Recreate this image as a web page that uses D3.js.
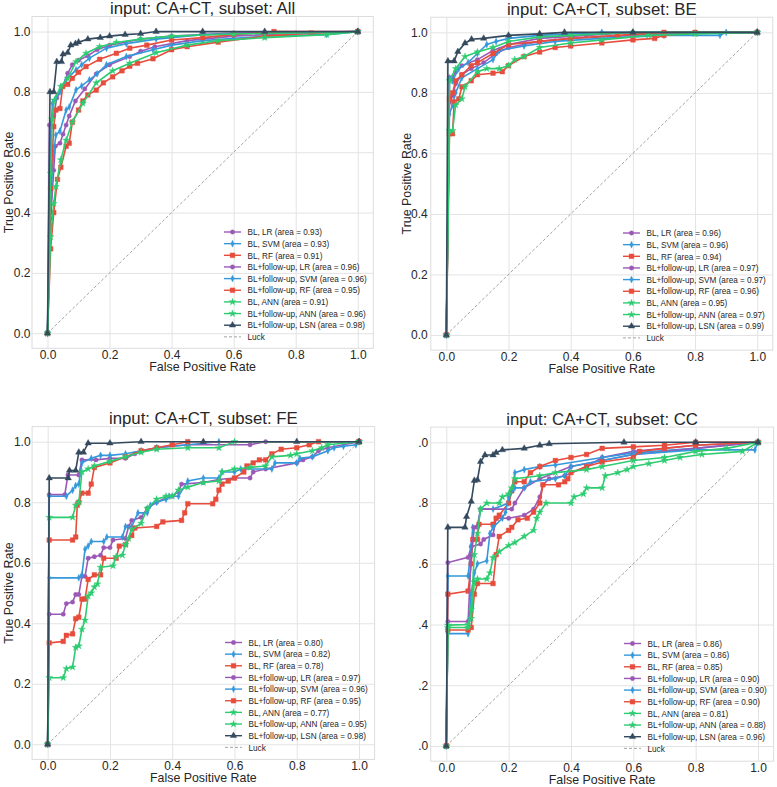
<!DOCTYPE html>
<html><head><meta charset="utf-8">
<script src="https://cdn.jsdelivr.net/npm/d3@7"></script>
<style>
html,body{margin:0;padding:0;background:#fff;}
svg text{font-family:"Liberation Sans",Arial,Helvetica,sans-serif;fill:#262626;}
</style></head>
<body>
<svg id="chart" width="777" height="787"></svg>
<script>
// ---------------- DATA ----------------
const TICKS = [0, 0.2, 0.4, 0.6, 0.8, 1.0];
const SUBSETS = ["All", "BE", "FE", "CC"];
const SERIES_LABELS = ["BL, LR", "BL, SVM", "BL, RF", "BL+follow-up, LR", "BL+follow-up, SVM",
  "BL+follow-up, RF", "BL, ANN", "BL+follow-up, ANN", "BL+follow-up, LSN"];
const SERIES_COLORS = ["#9b59b6", "#3498db", "#e74c3c", "#9b59b6", "#3498db", "#e74c3c", "#2ecc71", "#2ecc71", "#34495e"];
const SERIES_MARKERS = ["circle", "diamond", "square", "circle", "diamond", "square", "star", "star", "triangle"];
const LUCK_LABEL = "Luck";
const AUC_ALL = [0.93, 0.93, 0.91, 0.96, 0.96, 0.95, 0.91, 0.96, 0.98];
const AUC_BE  = [0.96, 0.96, 0.94, 0.97, 0.97, 0.96, 0.95, 0.97, 0.99];
const AUC_FE  = [0.80, 0.82, 0.78, 0.97, 0.96, 0.95, 0.77, 0.95, 0.98];
const AUC_CC  = [0.86, 0.86, 0.85, 0.90, 0.90, 0.90, 0.81, 0.88, 0.96];

// ---- subset All : [fpr, tpr] ----
const ALL_BL_LR = [[0,0],[0.01,0.38],[0.02,0.54],[0.025,0.62],[0.04,0.63],[0.05,0.66],[0.06,0.69],[0.07,0.72],[0.09,0.77],[0.12,0.81],[0.157,0.86],[0.2,0.89],[0.265,0.917],[0.3,0.935],[0.346,0.95],[0.45,0.97],[0.6,0.985],[0.8,0.995],[1,1]];
const ALL_BL_SVM = [[0,0],[0.01,0.45],[0.02,0.6],[0.027,0.657],[0.04,0.67],[0.06,0.74],[0.07,0.75],[0.092,0.807],[0.11,0.82],[0.135,0.84],[0.16,0.86],[0.19,0.89],[0.254,0.917],[0.34,0.94],[0.4,0.955],[0.5,0.97],[0.7,0.985],[0.9,0.99],[1,1]];
const ALL_BL_RF = [[0,0],[0.01,0.28],[0.02,0.40],[0.032,0.51],[0.043,0.55],[0.06,0.62],[0.07,0.63],[0.08,0.70],[0.1,0.74],[0.114,0.77],[0.13,0.79],[0.157,0.806],[0.18,0.83],[0.21,0.85],[0.24,0.87],[0.265,0.885],[0.29,0.895],[0.34,0.91],[0.4,0.94],[0.45,0.95],[0.55,0.965],[0.7,0.985],[0.85,0.995],[1,1]];
const ALL_FU_LR = [[0,0],[0.006,0.69],[0.02,0.72],[0.03,0.78],[0.05,0.82],[0.065,0.862],[0.08,0.89],[0.1,0.905],[0.13,0.92],[0.16,0.94],[0.2,0.955],[0.3,0.975],[0.4,0.985],[0.6,0.995],[1,1]];
const ALL_FU_SVM = [[0,0],[0.01,0.657],[0.016,0.762],[0.027,0.78],[0.04,0.8],[0.06,0.84],[0.092,0.873],[0.11,0.89],[0.135,0.912],[0.19,0.945],[0.254,0.96],[0.35,0.975],[0.5,0.99],[0.7,0.995],[1,1]];
const ALL_FU_RF = [[0,0],[0.01,0.48],[0.02,0.685],[0.027,0.74],[0.04,0.745],[0.049,0.818],[0.065,0.825],[0.08,0.845],[0.1,0.865],[0.124,0.884],[0.168,0.908],[0.222,0.928],[0.265,0.945],[0.32,0.955],[0.4,0.972],[0.5,0.98],[0.6,0.99],[0.73,1],[1,1]];
const ALL_BL_ANN = [[0,0],[0.01,0.32],[0.02,0.43],[0.027,0.486],[0.043,0.575],[0.06,0.64],[0.08,0.70],[0.114,0.762],[0.157,0.83],[0.21,0.87],[0.265,0.895],[0.35,0.93],[0.45,0.955],[0.55,0.97],[0.7,0.98],[0.9,0.99],[1,1]];
const ALL_FU_ANN = [[0,0],[0.01,0.53],[0.015,0.71],[0.022,0.773],[0.043,0.818],[0.065,0.845],[0.092,0.9],[0.124,0.928],[0.168,0.95],[0.222,0.964],[0.3,0.975],[0.4,0.985],[0.6,0.992],[1,1]];
const ALL_FU_LSN = [[0,0],[0.008,0.80],[0.02,0.80],[0.03,0.90],[0.045,0.90],[0.05,0.925],[0.065,0.93],[0.075,0.955],[0.09,0.96],[0.1,0.965],[0.13,0.975],[0.17,0.98],[0.2,0.985],[0.25,0.99],[0.3,0.993],[0.35,1],[0.5,1],[0.7,1],[1,1]];

// ---- subset BE ----
const BE_BL_LR = [[0,0],[0.01,0.77],[0.02,0.79],[0.03,0.83],[0.05,0.86],[0.08,0.88],[0.12,0.9],[0.16,0.93],[0.2,0.95],[0.25,0.96],[0.3,0.97],[0.4,0.98],[0.6,0.99],[0.8,1],[1,1]];
const BE_BL_SVM = [[0,0],[0.01,0.73],[0.02,0.76],[0.03,0.8],[0.05,0.85],[0.1,0.88],[0.15,0.91],[0.17,0.94],[0.25,0.955],[0.35,0.97],[0.5,0.98],[0.7,0.99],[0.88,0.99],[0.9,1],[1,1]];
const BE_BL_RF = [[0,0],[0.01,0.665],[0.02,0.665],[0.025,0.77],[0.04,0.78],[0.05,0.82],[0.08,0.84],[0.1,0.86],[0.15,0.865],[0.18,0.87],[0.2,0.89],[0.25,0.92],[0.3,0.935],[0.35,0.95],[0.4,0.955],[0.5,0.965],[0.6,0.975],[0.67,0.98],[0.7,0.99],[0.8,1],[1,1]];
const BE_FU_LR = [[0,0],[0.01,0.85],[0.02,0.85],[0.03,0.87],[0.05,0.89],[0.1,0.91],[0.15,0.94],[0.2,0.96],[0.3,0.98],[0.45,0.99],[0.6,1],[1,1]];
const BE_FU_SVM = [[0,0],[0.01,0.85],[0.02,0.84],[0.04,0.88],[0.07,0.9],[0.1,0.93],[0.13,0.96],[0.16,0.97],[0.2,0.98],[0.3,0.99],[0.5,1],[1,1]];
const BE_FU_RF = [[0,0],[0.01,0.78],[0.02,0.8],[0.03,0.84],[0.05,0.86],[0.08,0.89],[0.1,0.9],[0.15,0.93],[0.2,0.96],[0.3,0.97],[0.4,0.98],[0.55,0.99],[0.7,1],[1,1]];
const BE_BL_ANN = [[0,0],[0.01,0.675],[0.02,0.675],[0.03,0.76],[0.05,0.78],[0.06,0.82],[0.1,0.87],[0.13,0.88],[0.17,0.88],[0.2,0.89],[0.22,0.91],[0.25,0.92],[0.3,0.95],[0.4,0.965],[0.5,0.975],[0.65,0.99],[0.8,0.995],[1,1]];
const BE_FU_ANN = [[0,0],[0.01,0.84],[0.03,0.88],[0.06,0.92],[0.1,0.935],[0.15,0.95],[0.2,0.97],[0.3,0.985],[0.4,0.99],[0.6,1],[1,1]];
const BE_FU_LSN = [[0,0],[0.005,0.905],[0.025,0.905],[0.037,0.936],[0.06,0.964],[0.081,0.977],[0.12,0.98],[0.2,0.99],[0.3,0.995],[0.38,1],[0.6,1],[1,1]];

// ---- subset FE ----
const FE_BL_LR = [[0,0],[0.005,0.43],[0.05,0.43],[0.06,0.465],[0.08,0.47],[0.09,0.495],[0.1,0.495],[0.11,0.555],[0.12,0.555],[0.13,0.615],[0.15,0.62],[0.17,0.625],[0.18,0.65],[0.2,0.65],[0.21,0.675],[0.25,0.68],[0.26,0.72],[0.27,0.74],[0.3,0.75],[0.32,0.78],[0.35,0.8],[0.38,0.815],[0.4,0.82],[0.42,0.835],[0.43,0.86],[0.5,0.865],[0.55,0.875],[0.6,0.88],[0.65,0.88],[0.66,0.9],[0.7,0.91],[0.8,0.93],[0.82,0.94],[0.85,0.95],[0.87,0.97],[0.9,0.98],[1,1]];
const FE_BL_SVM = [[0,0],[0.005,0.55],[0.1,0.55],[0.11,0.56],[0.12,0.645],[0.13,0.655],[0.14,0.67],[0.18,0.67],[0.19,0.685],[0.24,0.685],[0.25,0.72],[0.27,0.72],[0.29,0.765],[0.32,0.765],[0.33,0.79],[0.35,0.8],[0.38,0.81],[0.39,0.82],[0.42,0.82],[0.45,0.87],[0.5,0.88],[0.55,0.88],[0.56,0.9],[0.6,0.9],[0.62,0.91],[0.72,0.91],[0.73,0.93],[0.8,0.93],[0.81,0.945],[0.85,0.95],[0.9,0.97],[0.92,0.98],[0.95,0.985],[0.99,0.99],[1,1]];
const FE_BL_RF = [[0,0],[0.005,0.335],[0.05,0.34],[0.06,0.36],[0.08,0.365],[0.09,0.415],[0.1,0.42],[0.11,0.48],[0.12,0.48],[0.13,0.545],[0.15,0.56],[0.17,0.56],[0.18,0.615],[0.22,0.615],[0.23,0.655],[0.25,0.66],[0.27,0.69],[0.28,0.715],[0.35,0.72],[0.37,0.735],[0.43,0.74],[0.44,0.765],[0.45,0.795],[0.53,0.795],[0.54,0.81],[0.55,0.84],[0.56,0.86],[0.58,0.87],[0.6,0.88],[0.63,0.9],[0.64,0.92],[0.66,0.93],[0.68,0.94],[0.7,0.94],[0.72,0.96],[0.75,0.975],[0.8,0.98],[0.84,0.99],[0.87,1],[1,1]];
const FE_FU_LR = [[0,0],[0.005,0.825],[0.055,0.825],[0.065,0.89],[0.1,0.89],[0.11,0.94],[0.155,0.94],[0.2,0.945],[0.25,0.945],[0.28,0.96],[0.35,0.98],[0.45,0.99],[0.65,0.99],[0.7,1],[1,1]];
const FE_FU_SVM = [[0,0],[0.005,0.82],[0.06,0.82],[0.08,0.84],[0.09,0.855],[0.1,0.86],[0.11,0.93],[0.14,0.945],[0.17,0.955],[0.2,0.955],[0.25,0.96],[0.3,0.97],[0.35,0.98],[0.45,0.99],[0.55,1],[1,1]];
const FE_FU_RF = [[0,0],[0.005,0.675],[0.08,0.675],[0.09,0.685],[0.095,0.79],[0.1,0.8],[0.11,0.83],[0.13,0.83],[0.14,0.86],[0.15,0.915],[0.2,0.93],[0.25,0.95],[0.3,0.97],[0.35,0.98],[0.4,0.99],[0.45,1],[1,1]];
const FE_BL_ANN = [[0,0],[0.005,0.22],[0.05,0.22],[0.06,0.25],[0.08,0.255],[0.09,0.32],[0.1,0.325],[0.11,0.38],[0.12,0.41],[0.13,0.49],[0.14,0.5],[0.15,0.52],[0.16,0.53],[0.17,0.585],[0.21,0.59],[0.22,0.62],[0.24,0.625],[0.25,0.66],[0.26,0.68],[0.27,0.71],[0.3,0.73],[0.32,0.78],[0.35,0.81],[0.38,0.82],[0.4,0.82],[0.42,0.84],[0.45,0.85],[0.5,0.865],[0.55,0.87],[0.56,0.9],[0.6,0.91],[0.65,0.915],[0.7,0.92],[0.72,0.95],[0.78,0.955],[0.8,0.96],[0.85,0.97],[0.88,0.98],[0.9,0.99],[1,1]];
const FE_FU_ANN = [[0,0],[0.005,0.75],[0.08,0.75],[0.09,0.79],[0.1,0.8],[0.11,0.9],[0.13,0.91],[0.15,0.92],[0.2,0.935],[0.25,0.95],[0.3,0.965],[0.35,0.975],[0.45,0.98],[0.55,0.98],[0.6,1],[1,1]];
const FE_FU_LSN = [[0,0],[0.005,0.88],[0.066,0.88],[0.07,0.905],[0.09,0.905],[0.1,0.965],[0.115,0.965],[0.13,0.995],[0.2,0.995],[0.3,1],[0.5,1],[0.8,1],[1,1]];

// ---- subset CC ----
const CC_BL_LR = [[0,0],[0.005,0.604],[0.07,0.621],[0.08,0.656],[0.11,0.665],[0.12,0.68],[0.15,0.695],[0.16,0.75],[0.2,0.75],[0.25,0.76],[0.28,0.78],[0.3,0.82],[0.31,0.86],[0.33,0.88],[0.38,0.89],[0.45,0.92],[0.5,0.95],[0.6,0.97],[0.8,0.99],[1,1]];
const CC_BL_SVM = [[0,0],[0.005,0.56],[0.07,0.56],[0.08,0.66],[0.085,0.72],[0.1,0.725],[0.11,0.78],[0.15,0.78],[0.2,0.8],[0.21,0.84],[0.22,0.9],[0.25,0.91],[0.3,0.92],[0.35,0.925],[0.5,0.95],[0.6,0.965],[0.8,0.98],[1,1]];
const CC_BL_RF = [[0,0],[0.005,0.5],[0.07,0.51],[0.08,0.6],[0.085,0.68],[0.1,0.68],[0.105,0.73],[0.15,0.73],[0.16,0.75],[0.17,0.76],[0.2,0.8],[0.21,0.84],[0.22,0.87],[0.25,0.87],[0.27,0.9],[0.3,0.92],[0.35,0.94],[0.4,0.95],[0.45,0.96],[0.5,0.98],[0.6,0.985],[0.7,0.99],[0.8,1],[1,1]];
const CC_FU_LR = [[0,0],[0.005,0.41],[0.07,0.41],[0.08,0.63],[0.09,0.72],[0.1,0.72],[0.11,0.78],[0.21,0.78],[0.22,0.8],[0.25,0.85],[0.3,0.88],[0.4,0.92],[0.5,0.94],[0.6,0.96],[0.8,0.98],[1,1]];
const CC_FU_SVM = [[0,0],[0.005,0.37],[0.07,0.37],[0.08,0.5],[0.09,0.57],[0.1,0.6],[0.13,0.61],[0.14,0.7],[0.15,0.72],[0.18,0.75],[0.19,0.77],[0.2,0.82],[0.22,0.85],[0.25,0.85],[0.27,0.87],[0.35,0.88],[0.38,0.89],[0.4,0.92],[0.5,0.94],[0.6,0.96],[0.8,0.975],[0.99,0.975],[1,1]];
const CC_FU_RF = [[0,0],[0.005,0.382],[0.07,0.382],[0.08,0.39],[0.09,0.5],[0.1,0.535],[0.15,0.535],[0.16,0.63],[0.17,0.69],[0.2,0.71],[0.21,0.72],[0.23,0.745],[0.26,0.75],[0.28,0.77],[0.3,0.8],[0.31,0.86],[0.36,0.86],[0.38,0.87],[0.39,0.88],[0.4,0.9],[0.45,0.92],[0.5,0.935],[0.6,0.95],[0.62,0.97],[0.7,0.98],[0.8,0.99],[1,1]];
const CC_BL_ANN = [[0,0],[0.005,0.398],[0.07,0.4],[0.08,0.42],[0.09,0.54],[0.1,0.55],[0.13,0.55],[0.14,0.57],[0.15,0.62],[0.17,0.64],[0.2,0.66],[0.22,0.67],[0.25,0.69],[0.28,0.71],[0.29,0.75],[0.3,0.77],[0.32,0.8],[0.4,0.8],[0.41,0.82],[0.44,0.83],[0.45,0.85],[0.5,0.85],[0.51,0.89],[0.55,0.9],[0.58,0.91],[0.6,0.92],[0.65,0.93],[0.7,0.94],[0.75,0.95],[0.82,0.96],[0.95,0.97],[1,1]];
const CC_FU_ANN = [[0,0],[0.005,0.39],[0.07,0.39],[0.08,0.45],[0.09,0.63],[0.1,0.7],[0.11,0.78],[0.13,0.8],[0.17,0.8],[0.18,0.82],[0.2,0.83],[0.21,0.85],[0.22,0.88],[0.3,0.89],[0.35,0.9],[0.45,0.91],[0.5,0.92],[0.6,0.94],[0.7,0.95],[0.8,0.97],[0.9,0.98],[1,1]];
const CC_FU_LSN = [[0,0],[0.005,0.72],[0.06,0.72],[0.065,0.755],[0.08,0.805],[0.09,0.874],[0.1,0.876],[0.11,0.936],[0.124,0.958],[0.15,0.958],[0.16,0.966],[0.18,0.975],[0.25,0.98],[0.3,0.99],[0.33,0.995],[0.57,1],[0.8,1],[1,1]];

const CURVES_ALL = [ALL_BL_LR, ALL_BL_SVM, ALL_BL_RF, ALL_FU_LR, ALL_FU_SVM, ALL_FU_RF, ALL_BL_ANN, ALL_FU_ANN, ALL_FU_LSN];
const CURVES_BE = [BE_BL_LR, BE_BL_SVM, BE_BL_RF, BE_FU_LR, BE_FU_SVM, BE_FU_RF, BE_BL_ANN, BE_FU_ANN, BE_FU_LSN];
const CURVES_FE = [FE_BL_LR, FE_BL_SVM, FE_BL_RF, FE_FU_LR, FE_FU_SVM, FE_FU_RF, FE_BL_ANN, FE_FU_ANN, FE_FU_LSN];
const CURVES_CC = [CC_BL_LR, CC_BL_SVM, CC_BL_RF, CC_FU_LR, CC_FU_SVM, CC_FU_RF, CC_BL_ANN, CC_FU_ANN, CC_FU_LSN];

// ---------------- LAYOUT ----------------
const panels = [
  {subset: SUBSETS[0], curves: CURVES_ALL, auc: AUC_ALL, x0: 32, x1: 373.3, y0: 16.5, y1: 348.3, legX: 224, legY: 232, yPad: 1.5, clipX: null},
  {subset: SUBSETS[1], curves: CURVES_BE, auc: AUC_BE, x0: 430.8, x1: 772.8, y0: 17.2, y1: 350.1, legX: 623, legY: 233, yPad: 3, clipX: null},
  {subset: SUBSETS[2], curves: CURVES_FE, auc: AUC_FE, x0: 32.1, x1: 374.6, y0: 426.6, y1: 759.4, legX: 225, legY: 642.5, yPad: 1.5, clipX: null},
  {subset: SUBSETS[3], curves: CURVES_CC, auc: AUC_CC, x0: 430.7, x1: 773.6, y0: 427.1, y1: 761.2, legX: 624, legY: 643.5, yPad: 2.5, clipX: 418}
];

const svg = d3.select("#chart");
const defs = svg.append("defs");

function markerPath(type) {
  switch (type) {
    case "circle": return d3.symbol(d3.symbolCircle, 15)();
    case "square": return d3.symbol(d3.symbolSquare, 22)();
    case "star": return d3.symbol(d3.symbolStar, 15)();
    case "triangle": return d3.symbol(d3.symbolTriangle, 18)();
    case "diamond": return "M0,-3.5L1.6,0L0,3.5L-1.6,0Z";
  }
}

panels.forEach((p, pi) => {
  let g = svg.append("g");
  if (p.clipX !== null) {
    defs.append("clipPath").attr("id", "clip" + pi)
      .append("rect").attr("x", p.clipX).attr("y", 380).attr("width", 777 - p.clipX).attr("height", 420);
    g = g.attr("clip-path", "url(#clip" + pi + ")").append("g");
  }
  const x = d3.scaleLinear().domain([-0.05, 1.05]).range([p.x0, p.x1]);
  const y = d3.scaleLinear().domain([-0.05, 1.05]).range([p.y1, p.y0]);

  g.append("rect").attr("x", p.x0).attr("y", p.y0).attr("width", p.x1 - p.x0).attr("height", p.y1 - p.y0)
    .attr("fill", "#fff").attr("stroke", "#dcdcdc").attr("stroke-width", 1);

  const xAxis = d3.axisBottom(x).tickValues(TICKS).tickFormat(d3.format(".1f"))
    .tickSize(-(p.y1 - p.y0)).tickPadding(2.5);
  const gx = g.append("g").attr("transform", `translate(0,${p.y1})`).call(xAxis);
  const yAxis = d3.axisLeft(y).tickValues(TICKS).tickFormat(d3.format(".1f"))
    .tickSize(-(p.x1 - p.x0)).tickPadding(p.yPad);
  const gy = g.append("g").attr("transform", `translate(${p.x0},0)`).call(yAxis);
  [gx, gy].forEach(a => {
    a.select(".domain").remove();
    a.selectAll(".tick line").attr("stroke", "#e3e3e3").attr("stroke-width", 1);
    a.selectAll(".tick text").attr("font-size", 12).attr("fill", "#262626")
      .style("font-family", '"Liberation Sans", Arial, sans-serif');
  });

  g.append("text").attr("x", (p.x0 + p.x1) / 2).attr("y", p.y0 - 2.5).attr("text-anchor", "middle")
    .attr("font-size", 16.8).text(`input: CA+CT, subset: ${p.subset}`);
  g.append("text").attr("x", (p.x0 + p.x1) / 2).attr("y", p.y1 + 23).attr("text-anchor", "middle")
    .attr("font-size", 12.4).text("False Positive Rate");
  g.append("text").attr("transform", `translate(${p.x0 - 19.5},${(p.y0 + p.y1) / 2}) rotate(-90)`)
    .attr("text-anchor", "middle").attr("font-size", 12.4).text("True Positive Rate");

  g.append("line").attr("x1", x(0)).attr("y1", y(0)).attr("x2", x(1)).attr("y2", y(1))
    .attr("stroke", "#9a9a9a").attr("stroke-width", 0.9).attr("stroke-dasharray", "3,2");

  const line = d3.line().x(d => x(d[0])).y(d => y(d[1]));
  p.curves.forEach((c, si) => {
    const col = SERIES_COLORS[si];
    const sg = g.append("g");
    sg.append("path").attr("d", line(c)).attr("fill", "none").attr("stroke", col).attr("stroke-width", 1.6);
    sg.selectAll("path.m").data(c).enter().append("path").attr("class", "m")
      .attr("d", markerPath(SERIES_MARKERS[si]))
      .attr("transform", d => `translate(${x(d[0])},${y(d[1])})`)
      .attr("fill", col).attr("stroke", col).attr("stroke-width", 0.4);
  });

  const rowH = 11.65;
  const lg = g.append("g");
  SERIES_LABELS.forEach((lab, si) => {
    const yy = p.legY + si * rowH;
    const col = SERIES_COLORS[si];
    lg.append("line").attr("x1", p.legX).attr("x2", p.legX + 17).attr("y1", yy).attr("y2", yy)
      .attr("stroke", col).attr("stroke-width", 1.4);
    lg.append("path").attr("d", markerPath(SERIES_MARKERS[si]))
      .attr("transform", `translate(${p.legX + 8.5},${yy})`).attr("fill", col).attr("stroke", col).attr("stroke-width", 0.4);
    lg.append("text").attr("x", p.legX + 23.5).attr("y", yy + 3.2).attr("font-size", 8.2)
      .text(`${lab} (area = ${p.auc[si].toFixed(2)})`);
  });
  const yl = p.legY + 9 * rowH;
  lg.append("line").attr("x1", p.legX).attr("x2", p.legX + 17).attr("y1", yl).attr("y2", yl)
    .attr("stroke", "#9a9a9a").attr("stroke-width", 0.9).attr("stroke-dasharray", "3,2");
  lg.append("text").attr("x", p.legX + 23.5).attr("y", yl + 3.2).attr("font-size", 8.2).text(LUCK_LABEL);
});
</script>
</body></html>
